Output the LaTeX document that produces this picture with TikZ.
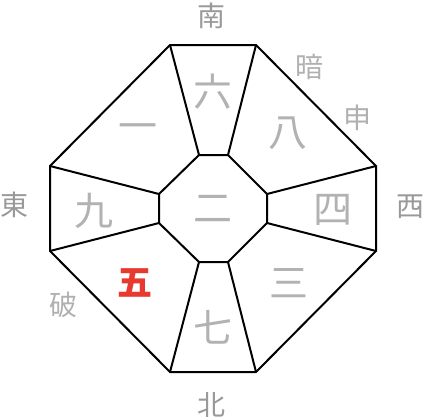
\documentclass[tikz,border=0pt]{standalone}
\usepackage{fontspec}
\newfontfamily\cjk{Noto Sans CJK JP}
\definecolor{numgray}{HTML}{B2B2B2}
\definecolor{dirgray}{HTML}{999999}
\definecolor{lblgray}{HTML}{B0B0B0}
\definecolor{fivered}{HTML}{E8392F}
\begin{document}
\begin{tikzpicture}[x=1pt,y=-1pt,
  edge/.style={line width=2pt,black,line join=miter},
  num/.style={inner sep=0pt,text=numgray,font=\cjk\fontsize{39}{39}\selectfont},
  dir/.style={inner sep=0pt,text=dirgray,font=\cjk\fontsize{28}{28}\selectfont},
  lbl/.style={inner sep=0pt,text=lblgray,font=\cjk\fontsize{28}{28}\selectfont},
  red5/.style={inner sep=0pt,text=fivered,font=\cjk\bfseries\fontsize{35}{35}\selectfont}]
\useasboundingbox (0,0) rectangle (426,418);
% outer octagon
\coordinate (o1) at (170,45);
\coordinate (o2) at (256,45);
\coordinate (o3) at (376,166);
\coordinate (o4) at (376,251);
\coordinate (o5) at (256,372);
\coordinate (o6) at (170,372);
\coordinate (o7) at (50,251);
\coordinate (o8) at (50,166);
% inner octagon
\coordinate (i1) at (199,155);
\coordinate (i2) at (228,155);
\coordinate (i3) at (267,194);
\coordinate (i4) at (267,223);
\coordinate (i5) at (228,262);
\coordinate (i6) at (199,262);
\coordinate (i7) at (159,223);
\coordinate (i8) at (159,194);
\draw[edge] (o1)--(o2)--(o3)--(o4)--(o5)--(o6)--(o7)--(o8)--cycle;
\draw[edge] (i1)--(i2)--(i3)--(i4)--(i5)--(i6)--(i7)--(i8)--cycle;
\foreach \k in {1,...,8} \draw[edge] (i\k)--(o\k);
% numbers
\node[num] (n6) at (213,92) {六};
\node[num] (n8) at (288,133) {八};
\node[num] (n4) at (333,210) {四};
\node[num] (n3) at (289,283) {三};
\node[num] (n7) at (213,327) {七};
\node[red5] (n5) at (135,283) {五};
\node[num] (n9) at (94,211) {九};
\node[num] (n1) at (138,132) {一};
\node[num] (n2) at (213,209) {二};
% directions
\node[dir] (s) at (211,16) {南};
\node[dir] (n) at (211,405) {北};
\node[dir] (e) at (15,205) {東};
\node[dir] (w) at (410,207) {西};
% labels
\node[lbl] (an) at (309,67) {暗};
\node[lbl] (sh) at (357,118) {申};
\node[lbl] (ha) at (63,305) {破};
\end{tikzpicture}
\end{document}
